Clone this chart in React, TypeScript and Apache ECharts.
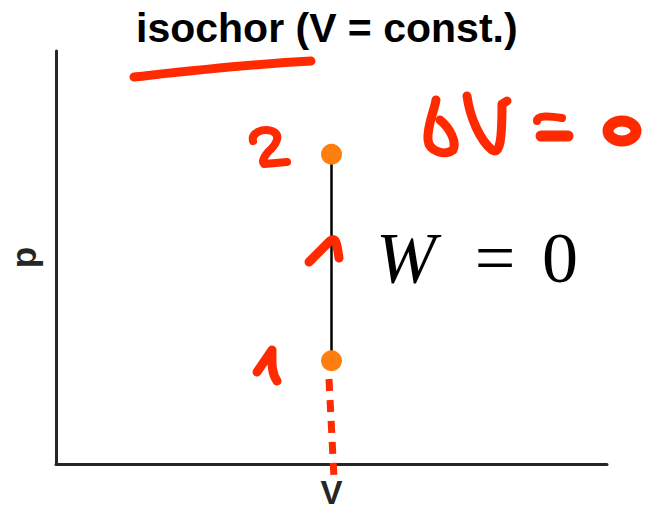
import React, { useEffect, useRef } from "react";
import * as echarts from "echarts";

// ---- data ----
const volumeValues = [0.5, 0.5];
const pressureValues = [0.25, 0.75];
const stateNames = ["1", "2"];
const titleText = "isochor (V = const.)";
const xAxisName = "V";
const yAxisName = "p";
const workText = ["W", "=", "0"];

// ---- hand-drawn red annotations (drawing, not data) ----
const RED = "#ff2a00";
const handStrokes: { d: string; w: number }[] = [
  { d: "M134,77 C180,72 250,64 311,61", w: 9 },
  { d: "M253,141 C251,133 262,128 272,131 C282,135 276,145 268,152 C263,158 262,162 264,164 L287,162", w: 8 },
  { d: "M309,262 L330,241 C336,236 337,244 339,258", w: 9 },
  { d: "M257,372 L272,350 C272,362 271,372 277,381", w: 9 },
  { d: "M436,100 C434,112 427,125 428,140 C429,152 446,156 453,150 C457,142 450,128 440,120", w: 9 },
  { d: "M467,96 C470,118 480,140 492,150 C500,155 502,140 502,104 L507,101", w: 9 },
  { d: "M537,121 C537,115 550,116 562,118", w: 8 },
  { d: "M541,136 L568,136", w: 11 },
];

let registered = false;
function registerStrokes() {
  if (registered) return;
  handStrokes.forEach((s, i) => {
    echarts.graphic.registerShape("hand" + i, echarts.graphic.extendPath(s.d, {}) as any);
  });
  registered = true;
}

export default function App() {
  const ref = useRef<HTMLDivElement>(null);
  useEffect(() => {
    if (!ref.current) return;
    registerStrokes();
    const chart = echarts.init(ref.current, null, { renderer: "svg" });
    const points = volumeValues.map((v, i) => [v, pressureValues[i], stateNames[i]]);
    const axisLine = { show: true, lineStyle: { color: "#262626", width: 3 } };
    const nameStyle = {
      fontSize: 35,
      lineHeight: 30,
      fontWeight: "bold" as const,
      color: "#262626",
      fontFamily: "Liberation Sans",
    };
    chart.setOption({
      animation: false,
      backgroundColor: "#ffffff",
      title: {
        text: titleText,
        left: 136,
        top: 7,
        padding: 0,
        textStyle: {
          fontSize: 41,
          fontWeight: "bold",
          color: "#000000",
          fontFamily: "Liberation Sans",
        },
      },
      grid: { left: 56, right: 39, top: 51, bottom: 48, outerBoundsMode: "none" },
      xAxis: {
        type: "value",
        min: 0,
        max: 1,
        name: xAxisName,
        nameLocation: "middle",
        nameGap: 13,
        nameTextStyle: { ...nameStyle, fontSize: 33 },
        axisLine,
        axisTick: { show: false },
        axisLabel: { show: false },
        splitLine: { show: false },
      },
      yAxis: {
        type: "value",
        min: 0,
        max: 1,
        name: yAxisName,
        nameLocation: "middle",
        nameGap: 18,
        nameRotate: 90,
        nameTextStyle: nameStyle,
        axisLine,
        axisTick: { show: false },
        axisLabel: { show: false },
        splitLine: { show: false },
      },
      series: [
        {
          type: "line",
          data: points,
          showSymbol: false,
          lineStyle: { color: "#000000", width: 2.5 },
          z: 2,
        },
        {
          type: "scatter",
          data: points,
          symbolSize: 21,
          itemStyle: { color: "#ff7f0e", opacity: 1 },
          z: 3,
        },
      ],
      graphic: [
        {
          type: "text",
          x: 376,
          y: 258,
          z: 5,
          style: {
            text: workText[0],
            fontSize: 72,
            fontStyle: "italic",
            fontFamily: "Liberation Serif",
            fill: "#000000",
            align: "left",
            verticalAlign: "middle",
          },
        },
        {
          type: "text",
          x: 495,
          y: 258,
          z: 5,
          style: {
            text: workText[1],
            fontSize: 72,
            fontFamily: "Liberation Serif",
            fill: "#000000",
            align: "center",
            verticalAlign: "middle",
          },
        },
        {
          type: "text",
          x: 560,
          y: 258,
          z: 5,
          style: {
            text: workText[2],
            fontSize: 72,
            fontFamily: "Liberation Serif",
            fill: "#000000",
            align: "center",
            verticalAlign: "middle",
          },
        },
        {
          type: "line",
          z: 10,
          shape: { x1: 329, y1: 379, x2: 334, y2: 478 },
          style: { stroke: RED, lineWidth: 7, lineDash: [12, 9], fill: "none" },
        },
        {
          type: "ellipse",
          z: 10,
          shape: { cx: 622, cy: 131, rx: 14, ry: 10 },
          style: { stroke: RED, lineWidth: 11, fill: "none" },
        },
        ...handStrokes.map((s, i) => ({
          type: "hand" + i,
          x: 0,
          y: 0,
          z: 10,
          style: {
            stroke: RED,
            lineWidth: s.w,
            fill: "none",
            lineCap: "round",
            lineJoin: "round",
          },
        })),
      ],
    });
    return () => chart.dispose();
  }, []);
  return (
    <div
      ref={ref}
      style={{ position: "absolute", left: 0, top: 0, width: 646, height: 512 }}
    />
  );
}
